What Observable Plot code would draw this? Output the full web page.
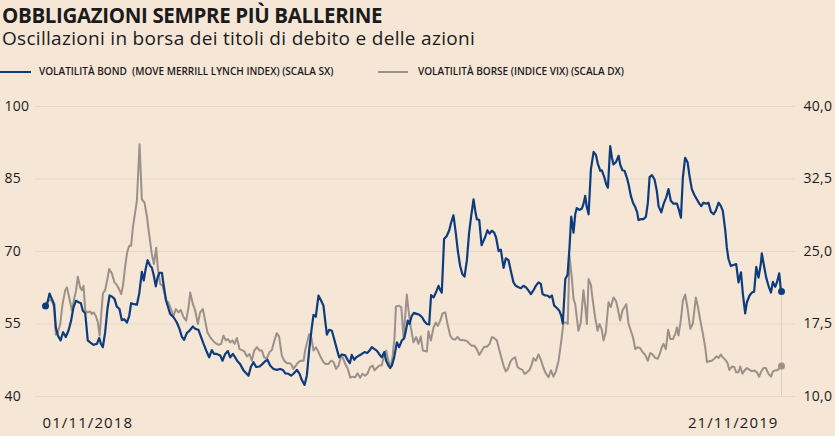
<!DOCTYPE html>
<html>
<head>
<meta charset="utf-8">
<script src="https://cdn.jsdelivr.net/npm/d3@7"></script>
<script src="https://cdn.jsdelivr.net/npm/@observablehq/plot@0.6"></script>
<style>
  html, body { margin: 0; padding: 0; background: #f5e6d6; width: 835px; height: 436px; overflow: hidden; }
  body { position: relative; font-family: "Open Sans", sans-serif; color: #1b1b1b; }
  #title { position: absolute; left: 2px; top: 7px; font-weight: 700; font-size: 20.5px; line-height: 0.8; letter-spacing: -0.35px; white-space: nowrap; }
  #subtitle { position: absolute; left: 2px; top: 31px; font-weight: 400; font-size: 19px; line-height: 0.8; letter-spacing: 0.3px; white-space: nowrap; }
  .leg { position: absolute; top: 64px; font-size: 10px; font-weight: 600; white-space: nowrap; }
  .sw { position: absolute; top: 70.5px; height: 2px; }
  #chart { position: absolute; left: 0; top: 88px; }
  #chart svg text { letter-spacing: 0.3px; }
</style>
</head>
<body>
<div id="title">OBBLIGAZIONI SEMPRE PIÙ BALLERINE</div>
<div id="subtitle">Oscillazioni in borsa dei titoli di debito e delle azioni</div>
<div class="sw" style="left:0px;width:31px;background:#0d3c7e"></div>
<div class="leg" style="left:39px">VOLATILITÀ BOND&nbsp; (MOVE MERRILL LYNCH INDEX) (SCALA SX)</div>
<div class="sw" style="left:378px;width:30px;background:#9b918a"></div>
<div class="leg" style="left:418px">VOLATILITÀ BORSE (INDICE VIX) (SCALA DX)</div>
<div id="chart"></div>
<script>
// Days elapsed since 01/11/2018 and index values
const bondDay = [0,0.7,2.1,3.3,4.5,5.4,6.5,7.9,9.2,10.6,12.0,13.4,14.6,15.9,17.3,18.5,19.5,20.8,22.1,23.7,25.1,26.9,28.1,29.0,30.0,31.2,32.4,33.5,34.7,36.1,37.3,38.7,39.9,41.2,42.6,43.8,44.8,46.4,47.8,49.0,50.4,51.4,52.3,53.4,54.8,55.6,56.5,57.7,58.6,59.6,60.9,61.7,
63.1,65.2,67.0,68.7,70.1,71.3,72.5,73.9,75.3,77.1,78.3,80.0,81.4,82.7,84.4,85.6,87.0,88.2,89.6,91.4,92.6,94.0,95.4,96.6,98.0,99.2,100.4,101.8,103.6,105.0,106.2,107.4,108.8,110.2,112.0,113.4,114.9,116.1,117.5,119.3,121.0,122.8,124.2,125.4,127.1,
128.5,129.7,131.5,132.9,134.1,135.5,136.7,137.9,139.3,140.2,141.4,142.8,144.2,145.4,146.3,147.2,148.4,149.8,151.0,152.4,153.6,155.0,156.8,158.0,159.2,160.2,161.5,162.5,164.1,165.5,166.9,168.3,169.5,170.7,172.1,173.3,174.5,175.9,177.2,178.2,179.4,180.3,181.2,182.4,183.8,185.0,186.4,187.6,188.5,189.5,190.4,191.6,192.7,
194.2,195.6,197.0,198.3,199.5,200.7,201.7,203.0,204.2,205.6,206.5,207.3,208.5,209.9,211.2,212.2,213.4,214.6,215.7,216.9,218.1,219.2,220.4,221.6,222.7,223.9,224.8,225.6,226.9,228.1,229.1,230.0,231.2,232.3,233.5,234.7,235.7,237.0,238.2,239.6,240.8,242.2,243.4,244.8,246.0,247.4,248.7,250.0,251.3,252.7,253.9,255.3,256.5,257.9,
259.1,260.0,261.4,262.6,263.7,264.9,266.1,267.5,268.7,269.8,270.6,271.9,273.1,274.1,275.0,276.2,277.1,277.9,279.2,280.6,281.4,282.3,283.2,284.1,285.3,286.7,287.9,288.9,290.2,291.0,292.3,293.3,294.2,295.4,296.3,297.1,298.4,299.8,300.6,301.8,302.9,304.1,305.0,306.2,307.3,308.5,309.5,310.2,311.6,312.8,314.1,315.1,316.0,317.2,318.6,319.8,320.7,322.1,323.3,
324.7,325.9,327.1,328.5,330.3,331.5,332.4,333.4,334.6,335.9,336.9,338.1,339.3,340.7,342.0,343.0,344.2,345.6,346.8,348.1,349.5,350.7,352.1,353.3,354.3,355.6,356.4,357.3,358.5,359.9,361.3,362.5,363.8,364.8,366.0,366.9,368.3,369.5,370.7,371.8,373.0,374.2,374.7,376.0,377.0,378.2,379.5,380.5,381.7,382.6,383.8,384.7,385];
const bondValue = [58.7,58.8,61.3,60.2,59.1,54.3,52.6,51.6,53.3,52.3,53.6,55.7,58.4,59.8,59.5,59.3,57.8,57.2,51.6,51.1,50.7,50.9,52.1,50.9,50.2,53.3,58.1,60.9,60.7,60.2,58.6,58.1,55.8,56.0,55.3,56.7,59.3,59.1,59.0,61.2,65.8,64.0,66.2,68.2,67.0,66.7,65.3,62.8,64.6,65.6,65.6,63.3,
59.8,57.1,56.4,55.3,54.0,52.4,51.7,53.1,53.6,54.5,54.0,53.8,52.3,50.9,49.2,48.1,49.6,48.8,48.8,48.5,47.4,48.8,49.4,48.1,48.8,48.1,47.3,46.7,45.4,44.8,44.3,46.1,47.1,46.1,46.2,46.7,47.3,47.6,46.4,45.7,45.5,45.7,45.5,44.8,44.7,
44.3,44.7,45.5,44.7,43.4,42.4,44.3,49.5,54.3,56.9,56.5,60.9,59.8,58.8,55.7,52.8,53.8,53.6,51.9,49.8,48.1,48.7,48.5,47.6,46.9,48.6,47.6,48.1,48.5,48.8,49.2,49.0,49.5,50.2,49.8,49.5,48.8,48.1,49.2,47.4,46.4,45.9,46.4,48.1,51.2,50.2,51.6,52.0,53.6,55.7,55.0,56.7,57.3,
57.1,56.9,56.4,55.5,55.0,54.9,61.0,60.5,61.5,62.9,62.0,61.5,72.6,73.2,74.4,76.0,77.5,73.9,70.1,67.0,65.3,64.8,68.1,73.9,77.4,80.8,78.4,76.7,76.5,71.3,72.2,73.0,74.4,73.7,74.3,73.9,72.9,70.1,70.4,66.6,68.6,68.2,66.0,63.6,62.9,62.6,62.4,62.9,62.6,61.9,61.2,62.0,62.9,63.6,
63.3,61.2,60.9,60.9,60.5,60.9,58.8,58.3,57.8,56.7,55.1,64.3,65.2,70.8,77.2,73.9,77.7,79.0,78.6,78.9,79.8,81.5,79.1,77.7,87.0,90.6,90.0,88.2,86.7,86.8,85.4,83.9,83.2,91.8,89.4,88.0,88.5,89.8,88.0,86.8,86.7,85.3,83.9,81.5,80.1,79.2,78.1,76.5,76.7,76.7,77.2,80.1,85.4,85.8,84.9,82.5,79.4,78.1,79.8,
81.2,82.9,80.5,79.9,79.9,78.4,77.0,85.3,89.4,88.4,85.6,82.9,81.8,80.8,79.9,79.4,80.1,79.9,80.1,78.2,77.7,78.5,80.1,79.4,78.4,74.3,70.8,68.4,67.0,67.2,67.4,63.6,65.7,61.2,57.2,59.5,60.9,61.5,61.7,66.8,64.6,67.5,69.6,66.7,64.6,62.9,61.5,63.7,62.7,63.6,65.5,61.9,61.7];

const vixDay = [0,1.6,3.3,4.5,5.4,6.5,7.7,8.9,10.3,11.2,12.4,13.8,15.0,16.0,16.9,18.1,19.0,19.9,20.8,22.0,23.4,24.2,25.1,26.3,27.4,28.3,30.0,31.2,32.4,33.3,34.7,36.1,37.3,38.5,39.6,40.5,41.7,42.7,43.8,44.8,45.7,46.9,47.8,49.2,50.4,51.8,53.0,54.2,55.6,56.7,57.9,58.8,60.0,61.2,62.3,
63.1,64.3,65.6,67.0,68.2,69.6,70.8,72.2,73.6,74.8,75.7,77.1,78.3,79.7,80.9,82.3,83.5,84.7,86.1,87.5,88.8,90.5,91.9,93.1,94.3,95.4,96.6,97.8,98.9,100.1,101.5,102.7,103.9,105.3,106.7,107.9,109.2,110.6,112.0,113.2,114.4,115.8,117.2,118.4,119.6,121.0,122.2,123.6,124.9,126.3,127.6,
128.5,129.7,130.9,132.3,133.7,135.0,135.8,136.7,137.9,139.0,140.2,141.4,142.8,144.0,145.4,146.6,148.0,149.3,150.7,152.0,153.3,154.5,155.5,156.8,158.0,159.4,160.6,162.0,163.2,164.6,165.8,167.2,168.4,169.8,171.1,172.1,173.3,174.5,175.9,177.2,178.2,179.4,180.3,181.5,182.6,183.3,184.7,186.1,187.3,188.1,189.0,189.9,191.1,192.5,
193.9,195.1,196.3,197.4,198.6,199.5,200.3,201.6,203.0,204.2,205.2,206.5,207.7,209.1,210.3,211.7,212.9,214.3,215.5,216.9,218.1,219.5,220.7,221.8,223.0,224.4,225.6,226.9,228.3,229.5,230.9,232.3,233.5,234.7,236.1,237.3,238.4,239.6,240.8,241.9,243.1,244.3,245.7,246.9,248.3,249.5,250.6,251.8,253.2,254.4,255.3,256.5,257.9,
259.3,260.5,261.7,263.1,264.4,265.7,267.0,268.4,269.6,271.0,272.2,273.2,274.1,275.3,276.2,277.1,277.9,278.8,280.0,281.4,282.3,283.2,284.1,285.3,286.3,287.5,288.8,289.8,291.0,291.9,293.1,294.5,295.7,297.1,298.4,299.4,300.6,301.8,302.9,303.8,305.0,306.2,307.3,308.5,309.7,311.1,312.3,313.7,315.1,316.3,317.5,318.9,320.2,321.2,322.4,323.3,
324.5,325.7,326.8,328.2,329.4,330.3,331.1,332.4,333.4,334.6,335.9,337.3,338.6,340.2,341.3,342.5,343.9,345.1,346.0,347.2,348.6,349.8,350.9,352.1,353.3,354.3,355.6,356.8,357.7,359.1,360.3,361.3,362.5,363.4,364.6,365.7,366.9,368.3,369.5,370.7,372.1,373.3,374.4,375.6,376.8,378.2,379.5,380.5,381.7,382.9,384.0,385];
const vixValue = [19.55,20.0,19.9,19.25,16.4,16.65,17.5,19.55,20.95,21.3,20.25,18.9,20.1,21.0,22.4,21.3,21.0,21.45,18.9,18.7,18.8,18.55,18.7,18.35,17.65,16.3,20.65,21.0,22.15,23.2,22.75,21.8,21.55,21.1,20.6,21.45,23.5,24.9,25.6,25.6,27.5,29.05,30.25,36.1,30.4,30.05,28.7,26.8,24.75,23.7,25.4,23.2,21.65,21.45,20.6,
19.9,19.75,19.05,18.35,19.05,18.7,18.95,18.2,17.85,19.2,20.75,19.55,18.9,17.5,18.7,19.05,17.85,16.65,16.15,15.8,15.55,15.35,15.45,16.3,15.8,15.95,15.6,15.8,15.45,16.05,14.9,14.8,14.7,14.15,14.4,13.7,14.75,15.1,14.75,14.75,14.05,13.95,14.6,14.8,15.7,16.55,16.2,14.25,13.7,13.45,13.45,
13.35,12.85,13.2,13.55,13.7,13.7,14.75,15.45,16.45,16.15,14.75,15.1,14.6,14.05,13.55,13.35,13.35,13.7,13.55,12.85,13.2,14.05,14.05,13.35,12.95,11.95,12.05,12.0,12.4,11.95,12.35,12.15,12.35,13.05,13.2,12.7,12.95,13.2,13.2,14.4,14.75,13.7,12.95,14.05,16.15,19.3,19.4,19.25,16.15,18.2,20.55,18.9,17.15,15.6,
16.15,15.45,16.2,14.75,14.7,14.65,16.75,15.8,17.15,17.65,17.3,17.85,18.6,18.7,17.5,16.3,15.95,15.9,16.15,15.85,15.85,15.8,15.7,15.45,15.25,15.25,14.9,14.3,14.75,15.15,15.15,15.45,16.15,16.05,15.8,14.9,14.05,13.2,12.6,12.85,13.55,13.9,14.05,13.05,12.85,12.75,12.35,12.5,12.75,13.35,13.95,13.7,14.35,
13.7,12.95,12.4,12.0,12.7,12.05,12.6,13.7,15.45,17.65,17.65,17.5,24.55,22.3,20.1,19.55,18.2,16.8,17.65,21.0,19.4,17.5,22.15,21.55,19.9,18.2,16.8,17.5,16.9,15.8,16.65,19.75,19.25,20.25,19.9,19.05,17.85,18.9,19.25,19.55,17.5,16.8,16.15,14.9,15.1,15.0,14.6,14.3,13.7,14.5,14.35,14.0,13.9,14.35,15.1,15.45,
14.9,16.9,15.95,15.95,16.45,17.15,16.3,18.0,19.9,20.55,19.05,17.0,17.55,20.25,19.25,17.9,16.45,15.1,13.55,13.65,13.7,13.9,14.15,14.0,14.35,14.05,13.8,13.45,12.75,13.1,13.05,12.5,12.5,13.1,12.35,12.7,12.95,12.75,12.6,12.7,12.5,12.05,12.6,12.95,12.95,12.35,12.05,12.6,12.7,12.75,12.95,13.15];

const leftTicks = [40, 55, 70, 85, 100];
const rightTicks = [10, 17.5, 25, 32.5, 40];
const rightTickLabels = ["10,0", "17,5", "25,0", "32,5", "40,0"];
const dateLabels = ["01/11/2018", "21/11/2019"];
const dateLabelDays = [0, 385];

const BLUE = "#0d3c7e", GREY = "#9b918a", GRID = "#ead8c4", TEXT = "#1b1b1b";
const t0 = Date.UTC(2018, 10, 1);
const toDate = d => new Date(t0 + d * 864e5);
// Right (VIX) scale mapped onto the left scale: 10 -> 40, 40 -> 100
const vixToLeft = v => 2 * (v + 10);

const bond = bondDay.map((d, i) => ({date: toDate(d), value: bondValue[i]}));
const vix = vixDay.map((d, i) => ({date: toDate(d), value: vixValue[i]}));
const rightAxis = rightTicks.map((v, i) => ({y: vixToLeft(v), label: rightTickLabels[i]}));
const dateAxis = dateLabels.map((label, i) => ({date: toDate(dateLabelDays[i]), label}));
const lastBond = bond[bond.length - 1];
const lastVix = vix[vix.length - 1];

const chart = Plot.plot({
  width: 835,
  height: 348,
  marginLeft: 45,
  marginRight: 54,
  marginTop: 18,
  marginBottom: 40,
  style: {background: "transparent", fontFamily: "'Open Sans', sans-serif", color: TEXT, overflow: "visible"},
  x: {type: "utc", domain: [toDate(0), toDate(385)], axis: null},
  y: {domain: [40, 100], axis: null},
  marks: [
    Plot.ruleY(leftTicks, {stroke: GRID, strokeWidth: 1, insetLeft: -10, insetRight: -14}),
    Plot.ruleX([lastBond], {x: "date", y1: 40, y2: "value", stroke: "#e2cfbb", strokeWidth: 1}),
    Plot.axisY({ticks: leftTicks, tickSize: 0, tickPadding: 0, textAnchor: "start", dx: -41, fontSize: 14, fill: TEXT}),
    Plot.text(rightAxis, {y: "y", text: "label", frameAnchor: "right", textAnchor: "start", dx: 22, fontSize: 14, fill: TEXT}),
    Plot.line(vix, {x: "date", y: d => vixToLeft(d.value), stroke: GREY, strokeWidth: 2, strokeLinejoin: "round"}),
    Plot.line(bond, {x: "date", y: "value", stroke: BLUE, strokeWidth: 2.2, strokeLinejoin: "round"}),
    Plot.dot([bond[0], lastBond], {x: "date", y: "value", r: 3.5, fill: BLUE, stroke: null}),
    Plot.dot([lastVix], {x: "date", y: d => vixToLeft(d.value), r: 3.5, fill: GREY, stroke: null}),
    Plot.text(dateAxis.slice(0, 1), {x: "date", y: () => 40, text: "label", textAnchor: "start", dx: -3, dy: 27, fontSize: 15, fill: TEXT}),
    Plot.text(dateAxis.slice(1), {x: "date", y: () => 40, text: "label", textAnchor: "end", dx: -3, dy: 27, fontSize: 15, fill: TEXT})
  ]
});
document.getElementById("chart").appendChild(chart);
// wider letter spacing for the date labels, as in the original typography
d3.select(chart).selectAll("text").filter(function() { return this.textContent.includes("/"); })
  .style("letter-spacing", "1.1px");
</script>
</body>
</html>
